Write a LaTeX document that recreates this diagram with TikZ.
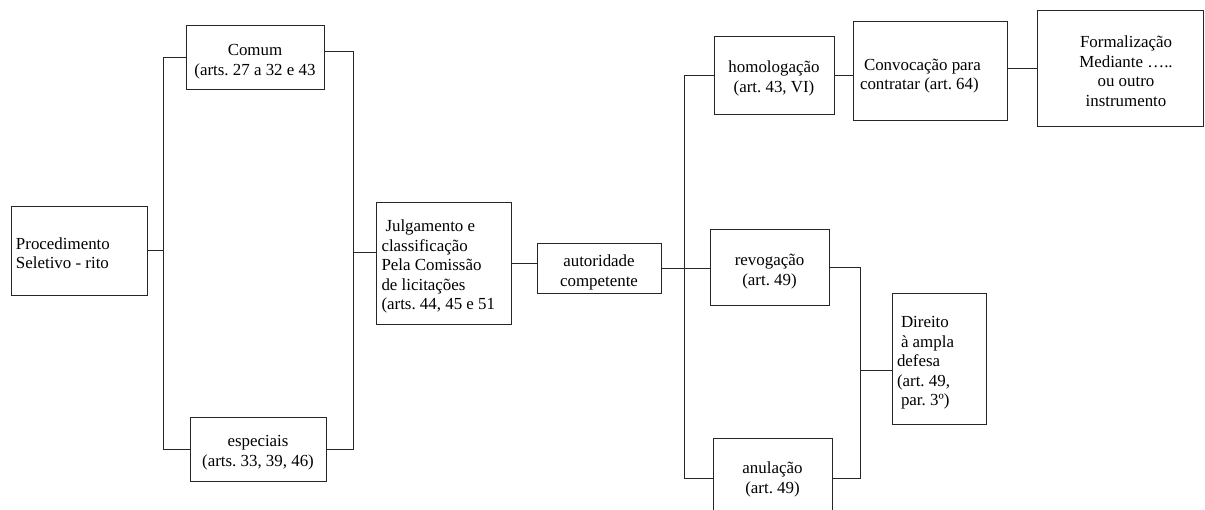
\documentclass[tikz,border=0pt]{standalone}
\usepackage{fontspec}
\setmainfont{Liberation Serif}
% text blocks: rows on a fixed 19.5pt grid, lowered a little inside their box
\newcommand\cellc[2][4.5pt]{\raisebox{-#1}[\height][\depth]{\begin{tabular}{@{}c@{}}#2\end{tabular}}}
\newcommand\celll[3][4.5pt]{\raisebox{-#1}[\height][\depth]{\begin{tabular}{@{}p{#2}@{}}#3\end{tabular}}}
\begin{document}
\frenchspacing
\begin{tikzpicture}[x=1pt,y=-1pt,
  box/.style={draw=black!85, line width=0.9pt, inner sep=0pt,
    font=\fontsize{16.9}{19.5}\selectfont},
  link/.style={draw=black!85, line width=0.9pt}]
\useasboundingbox (0,0) rectangle (1205,509);
\clip (0,0) rectangle (1205,509);

% left part: procedure and its two rites
\node[box, minimum width=136pt, minimum height=89pt] (proc) at (79,250.5)
  {\celll{126pt}{Procedimento\\Seletivo - rito}};
\node[box, minimum width=138pt, minimum height=64pt] (comum) at (255,57)
  {\cellc{Comum\\(arts. 27 a 32 e 43}};
\node[box, minimum width=136pt, minimum height=64pt] (espec) at (258,449)
  {\cellc[3.5pt]{especiais\\(arts. 33, 39, 46)}};
\node[box, minimum width=135pt, minimum height=122pt] (julg) at (443.5,263)
  {\celll[4pt]{124pt}{\hspace*{4pt}Julgamento e\\classificação\\Pela Comissão\\de licitações\\(arts. 44, 45 e 51}};
\node[box, minimum width=124pt, minimum height=50pt] (aut) at (599,268)
  {\cellc{autoridade\\competente}};

% right part: outcomes of the decision
\node[box, minimum width=120pt, minimum height=77.5pt] (homol) at (774,75.3)
  {\cellc[3.5pt]{homologação\\(art. 43, VI)}};
\node[box, minimum width=154pt, minimum height=99pt] (conv) at (930.5,70.5)
  {\celll[5.5pt]{141pt}{\hspace*{4pt}Convocação para\\contratar (art. 64)}};
\node[box, minimum width=166pt, minimum height=116pt] (form) at (1120,68)
  {\hspace*{12pt}\cellc[5pt]{Formalização\\Mediante …..\\ou outro\\instrumento}};
\node[box, minimum width=119pt, minimum height=76pt] (revog) at (769.5,267)
  {\cellc{revogação\\(art. 49)}};
\node[box, minimum width=119pt, minimum height=76pt] (anul) at (772.5,476)
  {\cellc[3.5pt]{anulação\\(art. 49)}};
\node[box, minimum width=94pt, minimum height=131pt] (direito) at (939,358.5)
  {\celll[4.5pt]{84pt}{\hspace*{4pt}Direito\\\hspace*{4pt}à ampla\\defesa\\(art. 49,\\\hspace*{4pt}par. 3º)}};

% bracket corners and junctions
\coordinate (lb) at (163,449);
\coordinate (rtop) at (353,51);
\coordinate (rb) at (353,449);
\coordinate (rj) at (353,252);
\coordinate (hb) at (684,478);
\coordinate (db) at (860,478);
\coordinate (dj) at (860,370);

% connectors
\draw[link] (comum.west) -| (lb) -- (espec.west);
\draw[link] (proc.east) -- (proc.east -| lb);
\draw[link] (rtop -| comum.east) -- (rtop) -- (rb) -- (espec.east);
\draw[link] (rj) -- (rj -| julg.west);
\draw[link] (julg.east) -- (julg.east -| aut.west);
\draw[link] (aut.east) -- (aut.east -| revog.west);
\draw[link] (homol.west) -| (hb) -- (hb -| anul.west);
\draw[link] (homol.east) -- (homol.east -| conv.west);
\draw[link] (form.west) -- (form.west -| conv.east);
\draw[link] (revog.east) -| (db) -- (db -| anul.east);
\draw[link] (dj) -- (dj -| direito.west);
\end{tikzpicture}
\end{document}
